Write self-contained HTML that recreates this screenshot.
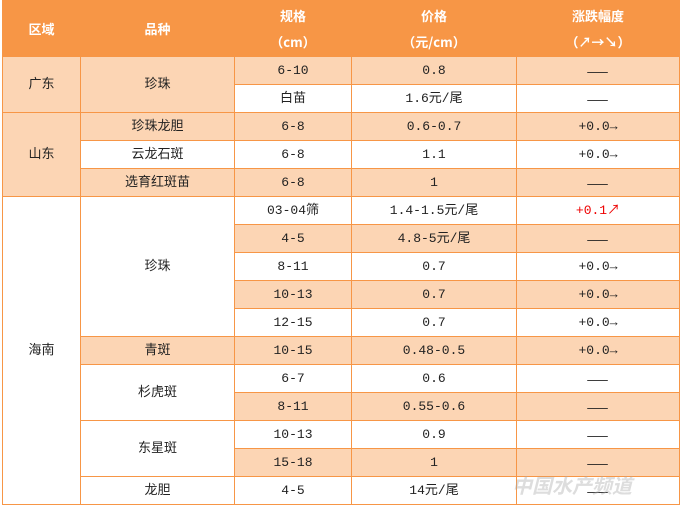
<!DOCTYPE html>
<html><head><meta charset="utf-8"><style>
body{margin:0;background:#fff;width:684px;height:509px;overflow:hidden;font-family:"Liberation Mono","Noto Sans CJK SC",monospace;font-size:13px;color:#222}
table{position:absolute;left:2px;top:0;border-collapse:collapse;table-layout:fixed;width:677px}
td{border:1px solid #f79646;text-align:center;height:27px;padding:0;line-height:14px}
.h td{background:#f79646;color:#fff;font-weight:bold;height:55px;border-color:#f79646;font-family:"Noto Sans CJK SC",sans-serif;font-size:13px}
.h td span{display:block;line-height:26px}
.p{background:#fcd5b4}
.w{background:#fff}
.r{color:#e00}
.d{font-family:"Noto Sans CJK SC",sans-serif;letter-spacing:1px}
</style></head><body>
<table>
<colgroup><col style="width:78px"><col style="width:154px"><col style="width:117px"><col style="width:165px"><col style="width:163px"></colgroup>
<tr class="h"><td>区域</td><td>品种</td><td><span>规格</span><span>（cm）</span></td><td><span>价格</span><span>（元/cm）</span></td><td><span>涨跌幅度</span><span>（↗→↘）</span></td></tr>
<tr><td rowspan="2" class="p">广东</td><td rowspan="2" class="p">珍珠</td><td class="p">6-10</td><td class="p">0.8</td><td class="p d">——</td></tr>
<tr><td class="w">白苗</td><td class="w">1.6元/尾</td><td class="w d">——</td></tr>
<tr><td rowspan="3" class="p">山东</td><td class="p">珍珠龙胆</td><td class="p">6-8</td><td class="p">0.6-0.7</td><td class="p">+0.0→</td></tr>
<tr><td class="w">云龙石斑</td><td class="w">6-8</td><td class="w">1.1</td><td class="w">+0.0→</td></tr>
<tr><td class="p">选育红斑苗</td><td class="p">6-8</td><td class="p">1</td><td class="p d">——</td></tr>
<tr><td rowspan="11" class="w">海南</td><td rowspan="5" class="w">珍珠</td><td class="w">03-04筛</td><td class="w">1.4-1.5元/尾</td><td class="w r">+0.1↗</td></tr>
<tr><td class="p">4-5</td><td class="p">4.8-5元/尾</td><td class="p d">——</td></tr>
<tr><td class="w">8-11</td><td class="w">0.7</td><td class="w">+0.0→</td></tr>
<tr><td class="p">10-13</td><td class="p">0.7</td><td class="p">+0.0→</td></tr>
<tr><td class="w">12-15</td><td class="w">0.7</td><td class="w">+0.0→</td></tr>
<tr><td class="p">青斑</td><td class="p">10-15</td><td class="p">0.48-0.5</td><td class="p">+0.0→</td></tr>
<tr><td rowspan="2" class="w">杉虎斑</td><td class="w">6-7</td><td class="w">0.6</td><td class="w d">——</td></tr>
<tr><td class="p">8-11</td><td class="p">0.55-0.6</td><td class="p d">——</td></tr>
<tr><td rowspan="2" class="w">东星斑</td><td class="w">10-13</td><td class="w">0.9</td><td class="w d">——</td></tr>
<tr><td class="p">15-18</td><td class="p">1</td><td class="p d">——</td></tr>
<tr><td class="w">龙胆</td><td class="w">4-5</td><td class="w">14元/尾</td><td class="w d">——</td></tr>
</table>
<div style="position:absolute;left:512px;top:470px;font-size:20px;color:rgba(170,170,170,0.4);font-family:'Noto Sans CJK SC',sans-serif;font-weight:bold;font-style:italic">中国水产频道</div>
</body></html>
